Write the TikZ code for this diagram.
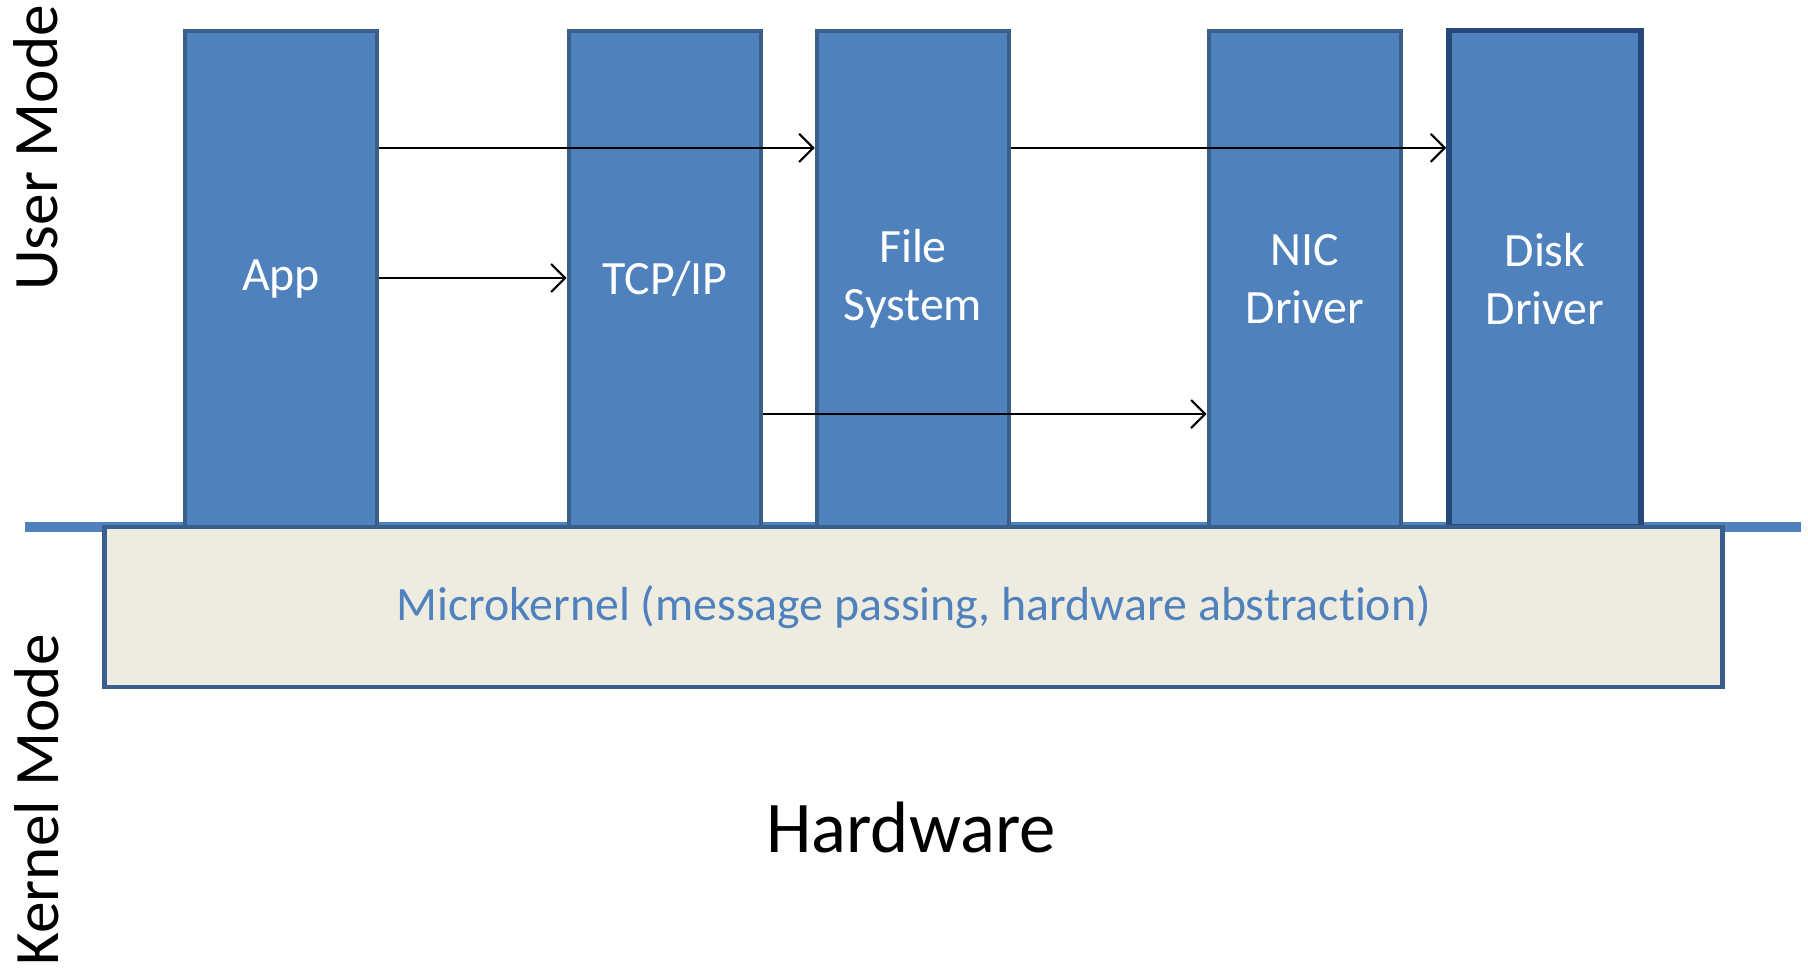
\documentclass[tikz,border=0pt]{standalone}
\usepackage{fontspec}
\setmainfont{Carlito}[Ligatures={NoCommon,NoContextual}]
\usetikzlibrary{arrows.meta}
\definecolor{azul}{HTML}{4F81BD}
\definecolor{azuloscuro}{HTML}{3A5F8C}
\definecolor{marino}{HTML}{25477A}
\definecolor{crema}{HTML}{EEECE1}
\begin{document}
\begin{tikzpicture}[
    x=0.01cm, y=-0.01cm,
    % Estilos de los nodos
    modbox/.style={rectangle, draw=azuloscuro, line width=1.3pt, fill=azul, text=white, minimum width=1.92cm, minimum height=4.96cm, align=center, font=\fontsize{13.6}{16.5}\selectfont},
    diskbox/.style={modbox, draw=marino, line width=1.5pt},
    kernelbox/.style={rectangle, draw=azuloscuro, line width=1.3pt, fill=crema, text=azul, minimum width=16.17cm, minimum height=1.6cm, font=\fontsize{13.6}{16.5}\selectfont},
    modo/.style={rotate=90, font=\fontsize{18}{21}\selectfont, text=black},
    texto/.style={font=\fontsize{20.7}{24}\selectfont, text=black},
    line/.style={-, line width=3.1pt, draw=azul},
    arrow/.style={-{Straight Barb[length=4pt, width=8pt]}, line width=0.6pt, draw=black}
]
\useasboundingbox (0,0) rectangle (1808,968);

% --- LINEA USUARIO / NUCLEO ---
\coordinate (lin1) at (25,527);
\coordinate (lin2) at (1801,527);
\draw[line] (lin1) -- (lin2);

% --- MODULOS EN MODO USUARIO ---
\node[modbox] (app) at (281,279) {App};
\node[modbox] (tcp) at (665,279) {TCP/IP};
\node[modbox] (fs) at (913,279) {File\\System};
\node[modbox] (nic) at (1305,279) {NIC\\Driver};
\node[diskbox] (disk) at (1545,279) {Disk\\Driver};

% --- MICRONUCLEO ---
\node[kernelbox] (kernel) at (913.5,607) {Microkernel (message passing, hardware abstraction)};

\node[texto] (hw) at (911,828) {Hardware};

% --- MODOS ---
\node[modo] (user) at (36,148) {User Mode};
\node[modo] (kmode) at (37,800) {Kernel Mode};

% --- MENSAJES ---
\draw[arrow] ([yshift=1.31cm]app.east) -- ([yshift=1.31cm]fs.west);
\draw[arrow] ([yshift=0.01cm]app.east) -- ([yshift=0.01cm]tcp.west);
\draw[arrow] ([yshift=1.31cm]fs.east) -- ([yshift=1.31cm]disk.west);
\draw[arrow] ([yshift=-1.35cm]tcp.east) -- ([yshift=-1.35cm]nic.west);

\end{tikzpicture}
\end{document}
